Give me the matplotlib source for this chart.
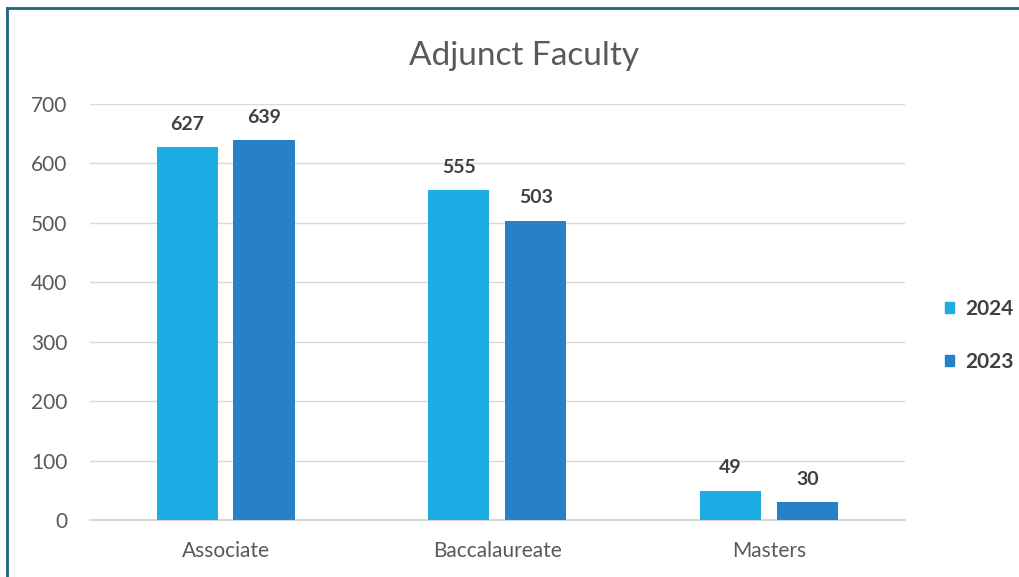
import matplotlib.pyplot as plt
from matplotlib.patches import Patch
from matplotlib.lines import Line2D
import numpy as np

plt.rcParams['font.family'] = ['Lato', 'DejaVu Sans']

# Data
categories = ['Associate', 'Baccalaureate', 'Masters']
series_names = ['2024', '2023']
values_2024 = [627, 555, 49]
values_2023 = [639, 503, 30]

COLORS = {'2024': '#1DACE3', '2023': '#2781C6'}
TEXT = '#595959'
LABEL = '#404040'

fig = plt.figure(figsize=(10.2, 5.77), dpi=100)
ax = fig.add_axes([0.088, 0.0988, 0.799, 0.721])

x = np.arange(len(categories))
width = 0.225
offset = 0.1415

for vals, name, sign in [(values_2024, '2024', -1), (values_2023, '2023', 1)]:
    bars = ax.bar(x + sign * offset, vals, width, color=COLORS[name], zorder=3)
    for b, v in zip(bars, vals):
        ax.annotate(str(v), (b.get_x() + b.get_width() / 2, v),
                    xytext=(0, 10.5), textcoords='offset points',
                    ha='center', va='bottom', fontsize=14,
                    fontweight='bold', color=LABEL)

ax.set_xlim(-0.5, 2.5)
ax.set_ylim(0, 700)
ax.set_yticks(range(0, 701, 100))
ax.set_xticks(x)
ax.set_xticklabels(categories)
ax.grid(axis='y', color='#D9D9D9', linewidth=1, zorder=0)
ax.tick_params(axis='both', length=0, labelsize=15, colors=TEXT)
ax.tick_params(axis='y', pad=16)
ax.tick_params(axis='x', pad=15)
for s in ['top', 'right', 'left']:
    ax.spines[s].set_visible(False)
ax.spines['bottom'].set_color('#D9D9D9')
ax.spines['bottom'].set_linewidth(1.5)

fig.text(0.514, 1 - 65 / 577, 'Adjunct Faculty', ha='center', va='baseline',
         fontsize=24, color=TEXT)

handles = [Patch(color=COLORS[n]) for n in series_names]
leg = fig.legend(handles, series_names, loc='center left',
                 bbox_to_anchor=(0.926, 0.4185), frameon=False,
                 borderaxespad=0, borderpad=0,
                 handlelength=0.45, handleheight=0.45, handletextpad=0.55,
                 labelspacing=1.6, prop={'size': 15, 'weight': 'bold'})
for t in leg.get_texts():
    t.set_color(LABEL)

# border (top and left edges visible)
border = '#1F6482'
fig.add_artist(Line2D([7.5 / 1020, 7.5 / 1020], [0, 1 - 7.5 / 577],
                      color=border, linewidth=2, transform=fig.transFigure))
fig.add_artist(Line2D([7.5 / 1020, 1], [1 - 7.5 / 577, 1 - 7.5 / 577],
                      color=border, linewidth=2, transform=fig.transFigure))

fig.savefig('out.png', dpi=100, facecolor='white')
